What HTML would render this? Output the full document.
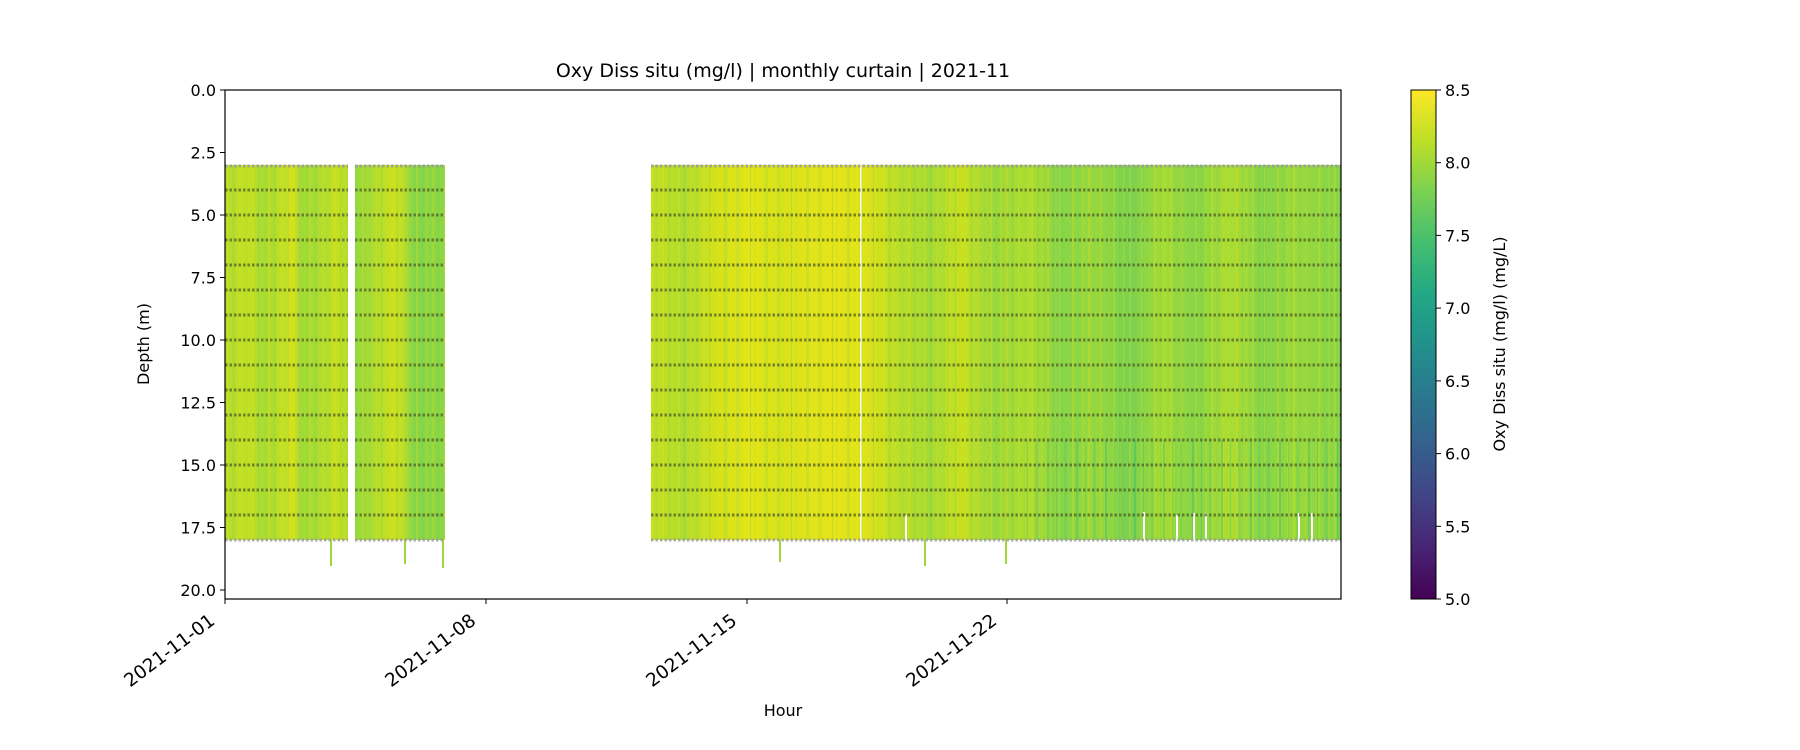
<!DOCTYPE html>
<html><head><meta charset="utf-8"><style>
html,body{margin:0;padding:0;background:#fff;}
svg{display:block;font-family:"DejaVu Sans","Liberation Sans",sans-serif;}
</style></head><body>
<svg width="1800" height="750" viewBox="0 0 1800 750" xmlns="http://www.w3.org/2000/svg">
<defs>
<linearGradient id="g" gradientUnits="userSpaceOnUse" x1="225" y1="0" x2="1341" y2="0">
<stop offset="0" stop-color="#b0dd2f"/><stop offset="0.02" stop-color="#c8e020"/><stop offset="0.035" stop-color="#a5db36"/>
<stop offset="0.05" stop-color="#c0df25"/><stop offset="0.06" stop-color="#d5e21a"/><stop offset="0.07" stop-color="#9bd93c"/>
<stop offset="0.085" stop-color="#b0dd2f"/><stop offset="0.1" stop-color="#c8e020"/><stop offset="0.12" stop-color="#9bd93c"/>
<stop offset="0.14" stop-color="#b8de29"/><stop offset="0.155" stop-color="#d0e11c"/><stop offset="0.17" stop-color="#86d549"/>
<stop offset="0.38" stop-color="#c8e020"/><stop offset="0.41" stop-color="#b0dd2f"/><stop offset="0.44" stop-color="#d5e21a"/>
<stop offset="0.47" stop-color="#e2e418"/><stop offset="0.5" stop-color="#d8e219"/><stop offset="0.53" stop-color="#e5e419"/>
<stop offset="0.57" stop-color="#e2e418"/><stop offset="0.6" stop-color="#c0df25"/><stop offset="0.63" stop-color="#a5db36"/>
<stop offset="0.66" stop-color="#c8e020"/><stop offset="0.69" stop-color="#9bd93c"/><stop offset="0.72" stop-color="#b0dd2f"/>
<stop offset="0.75" stop-color="#86d549"/><stop offset="0.78" stop-color="#9bd93c"/><stop offset="0.81" stop-color="#7ad151"/>
<stop offset="0.84" stop-color="#a5db36"/><stop offset="0.87" stop-color="#86d549"/><stop offset="0.9" stop-color="#b0dd2f"/>
<stop offset="0.93" stop-color="#86d549"/><stop offset="0.96" stop-color="#9bd93c"/><stop offset="1" stop-color="#86d549"/>
</linearGradient>
<linearGradient id="v" x1="0" y1="1" x2="0" y2="0">
<stop offset="0" stop-color="#440154"/><stop offset="0.1" stop-color="#482475"/><stop offset="0.2" stop-color="#414487"/>
<stop offset="0.3" stop-color="#355f8d"/><stop offset="0.4" stop-color="#2a788e"/><stop offset="0.5" stop-color="#21918c"/>
<stop offset="0.6" stop-color="#22a884"/><stop offset="0.7" stop-color="#44bf70"/><stop offset="0.8" stop-color="#7ad151"/>
<stop offset="0.9" stop-color="#bddf26"/><stop offset="1" stop-color="#fde725"/>
</linearGradient>
<pattern id="st" patternUnits="userSpaceOnUse" x="225" y="0" width="41" height="400">
<rect x="2" y="0" width="2" height="400" fill="#e8e419" opacity="0.25"/>
<rect x="7" y="0" width="3" height="400" fill="#6ccd5a" opacity="0.2"/>
<rect x="14" y="0" width="1" height="400" fill="#d8e219" opacity="0.3"/>
<rect x="19" y="0" width="4" height="400" fill="#8fd744" opacity="0.2"/>
<rect x="27" y="0" width="2" height="400" fill="#e2e418" opacity="0.25"/>
<rect x="33" y="0" width="1" height="400" fill="#5ec962" opacity="0.25"/>
<rect x="37" y="0" width="2" height="400" fill="#c8e020" opacity="0.25"/>
</pattern>
<pattern id="tl" patternUnits="userSpaceOnUse" x="0" y="0" width="29" height="200">
<rect x="3" y="0" width="2" height="200" fill="#28ae80" opacity="0.3"/>
<rect x="12" y="0" width="1" height="200" fill="#3bbb75" opacity="0.3"/>
<rect x="20" y="0" width="3" height="200" fill="#4ac16d" opacity="0.25"/>
</pattern>
</defs>
<g>
<rect x="225" y="165" width="123" height="375" fill="url(#g)"/>
<rect x="355" y="165" width="90" height="375" fill="url(#g)"/>
<rect x="651" y="165" width="690" height="375" fill="url(#g)"/>
<rect x="225" y="165" width="123" height="375" fill="url(#st)"/>
<rect x="355" y="165" width="90" height="375" fill="url(#st)"/>
<rect x="651" y="165" width="690" height="375" fill="url(#st)"/>
<rect x="1020" y="440" width="321" height="100" fill="url(#tl)"/>
</g>
<rect x="860" y="165" width="1.5" height="375" fill="#fff"/>
<g fill="#fff">
<rect x="905" y="515" width="2" height="25"/><rect x="1143" y="512" width="2" height="28"/><rect x="1176" y="515" width="2" height="25"/>
<rect x="1193" y="513" width="2" height="27"/><rect x="1205" y="513" width="2" height="27"/><rect x="1298" y="513" width="2" height="27"/>
<rect x="1311" y="513" width="2" height="27"/>
</g>
<g stroke="#9fd938" stroke-width="2">
<line x1="331" y1="540" x2="331" y2="566"/><line x1="405" y1="540" x2="405" y2="564"/><line x1="443" y1="540" x2="443" y2="568"/>
<line x1="780" y1="540" x2="780" y2="562"/><line x1="925" y1="540" x2="925" y2="566"/><line x1="1006" y1="540" x2="1006" y2="564"/>
</g>
<g fill="none" stroke-dasharray="2.5 2" stroke-width="3">
<g stroke="#999" opacity="0.8">
<path d="M225 166H348M355 166H445M651 166H1341M225 540H348M355 540H445M651 540H1341"/>
</g>
<g stroke="#4b5a28" opacity="0.7">
<path d="M225 190H348M355 190H445M651 190H1341 M225 215H348M355 215H445M651 215H1341 M225 240H348M355 240H445M651 240H1341 M225 265H348M355 265H445M651 265H1341 M225 290H348M355 290H445M651 290H1341 M225 315H348M355 315H445M651 315H1341 M225 340H348M355 340H445M651 340H1341 M225 365H348M355 365H445M651 365H1341 M225 390H348M355 390H445M651 390H1341 M225 415H348M355 415H445M651 415H1341 M225 440H348M355 440H445M651 440H1341 M225 465H348M355 465H445M651 465H1341 M225 490H348M355 490H445M651 490H1341 M225 515H348M355 515H445M651 515H1341"/>
</g>
</g>
<rect x="225" y="90" width="1116" height="509" fill="none" stroke="#000" stroke-width="1.2"/>
<g stroke="#000" stroke-width="1">
<line x1="220" y1="90" x2="225" y2="90"/><line x1="220" y1="152.5" x2="225" y2="152.5"/><line x1="220" y1="215" x2="225" y2="215"/>
<line x1="220" y1="277.5" x2="225" y2="277.5"/><line x1="220" y1="340" x2="225" y2="340"/><line x1="220" y1="402.5" x2="225" y2="402.5"/>
<line x1="220" y1="465" x2="225" y2="465"/><line x1="220" y1="527.5" x2="225" y2="527.5"/><line x1="220" y1="590" x2="225" y2="590"/>
<line x1="225" y1="599" x2="225" y2="604"/><line x1="486" y1="599" x2="486" y2="604"/><line x1="747" y1="599" x2="747" y2="604"/><line x1="1007" y1="599" x2="1007" y2="604"/>
</g>
<g font-size="16" text-anchor="end" fill="#000">
<text x="216" y="96">0.0</text><text x="216" y="158.5">2.5</text><text x="216" y="221">5.0</text><text x="216" y="283.5">7.5</text>
<text x="216" y="346">10.0</text><text x="216" y="408.5">12.5</text><text x="216" y="471">15.0</text><text x="216" y="533.5">17.5</text><text x="216" y="596">20.0</text>
</g>
<g font-size="18.5" text-anchor="end" fill="#000">
<text transform="translate(216,623) rotate(-37)">2021-11-01</text>
<text transform="translate(477,623) rotate(-37)">2021-11-08</text>
<text transform="translate(738,623) rotate(-37)">2021-11-15</text>
<text transform="translate(998,623) rotate(-37)">2021-11-22</text>
</g>
<text x="783" y="716" font-size="16" text-anchor="middle">Hour</text>
<text transform="translate(149,344) rotate(-90)" font-size="16" text-anchor="middle">Depth (m)</text>
<text x="783" y="77" font-size="19" text-anchor="middle">Oxy Diss situ (mg/l) | monthly curtain | 2021-11</text>
<rect x="1411" y="90" width="25" height="509" fill="url(#v)" stroke="#000" stroke-width="1"/>
<g stroke="#000" stroke-width="1">
<line x1="1436" y1="90" x2="1441" y2="90"/><line x1="1436" y1="162.7" x2="1441" y2="162.7"/><line x1="1436" y1="235.4" x2="1441" y2="235.4"/>
<line x1="1436" y1="308.1" x2="1441" y2="308.1"/><line x1="1436" y1="380.9" x2="1441" y2="380.9"/><line x1="1436" y1="453.6" x2="1441" y2="453.6"/>
<line x1="1436" y1="526.3" x2="1441" y2="526.3"/><line x1="1436" y1="599" x2="1441" y2="599"/>
</g>
<g font-size="16">
<text x="1445" y="96">8.5</text><text x="1445" y="168.7">8.0</text><text x="1445" y="241.4">7.5</text><text x="1445" y="314.1">7.0</text>
<text x="1445" y="386.9">6.5</text><text x="1445" y="459.6">6.0</text><text x="1445" y="532.3">5.5</text><text x="1445" y="605">5.0</text>
</g>
<text transform="translate(1505,344) rotate(-90)" font-size="16" text-anchor="middle">Oxy Diss situ (mg/l) (mg/L)</text>
</svg>
</body></html>
